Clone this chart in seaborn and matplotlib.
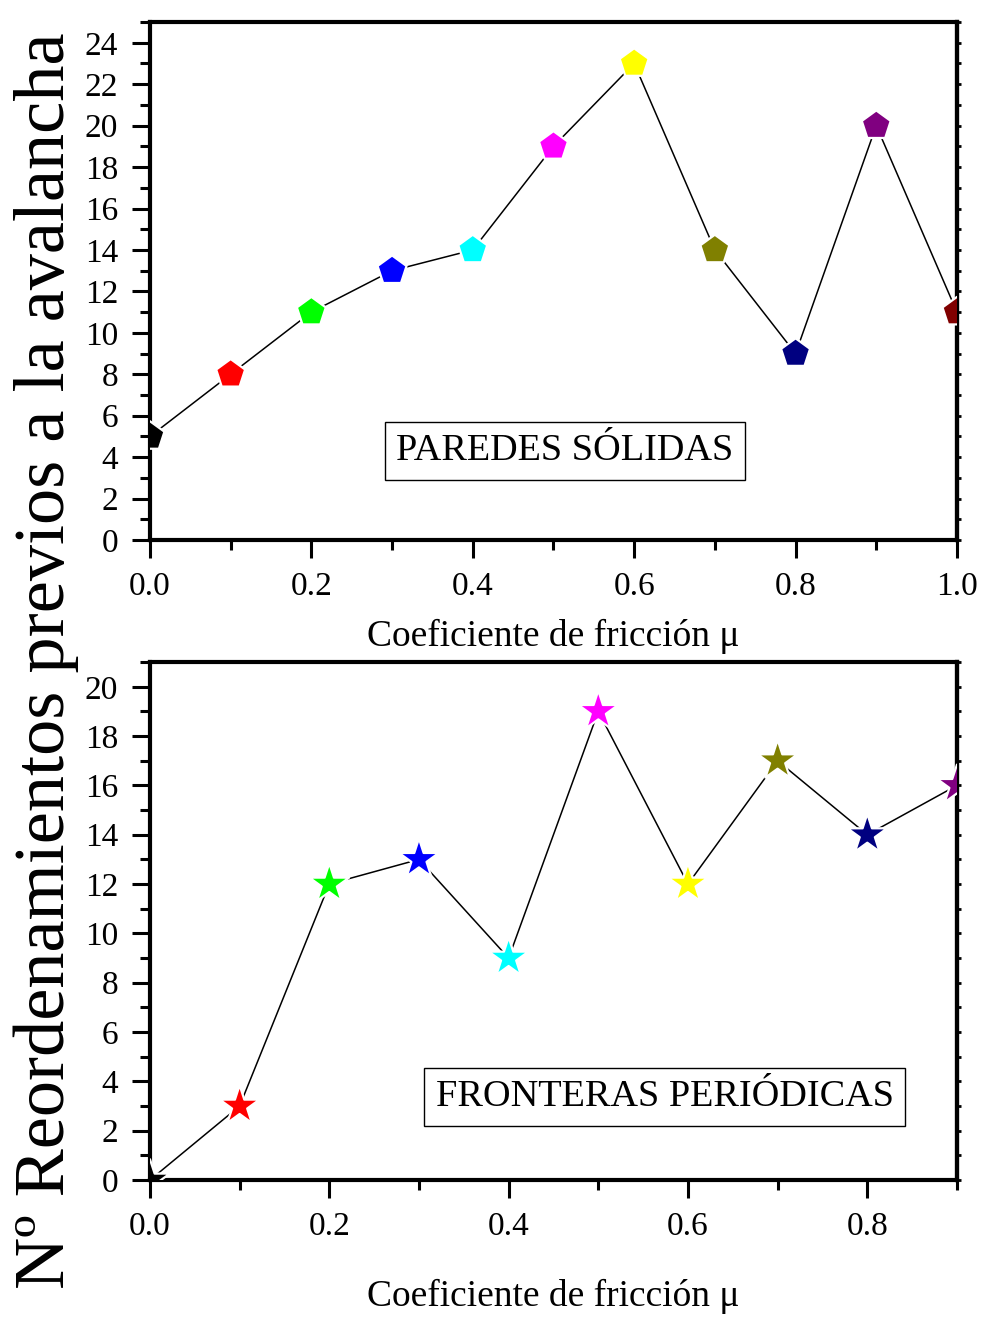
import numpy as np
import pandas as pd
import matplotlib
matplotlib.use('Agg')
import matplotlib.pyplot as plt
import seaborn as sns
from matplotlib.ticker import MultipleLocator, FormatStrFormatter

# data
mu_solid = [0.0, 0.1, 0.2, 0.3, 0.4, 0.5, 0.6, 0.7, 0.8, 0.9, 1.0]
n_solid = [5, 8, 11, 13, 14, 19, 23, 14, 9, 20, 11]
mu_per = [0.0, 0.1, 0.2, 0.3, 0.4, 0.5, 0.6, 0.7, 0.8, 0.9]
n_per = [0, 3, 12, 13, 9, 19, 12, 17, 14, 16]
point_colors = ['black', 'red', 'lime', 'blue', 'cyan', 'magenta',
                'yellow', 'olive', 'navy', 'purple', 'maroon']

xlabel = 'Coeficiente de fricción μ'
ylabel = 'Nº Reordenamientos previos a la avalancha'

sns.set_style('ticks', {'axes.edgecolor': 'black', 'xtick.color': 'black',
                        'ytick.color': 'black', 'text.color': 'black',
                        'axes.labelcolor': 'black'})
plt.rcParams['font.family'] = ['Liberation Serif', 'DejaVu Serif']

fig = plt.figure(figsize=(9.82, 13.21), dpi=100)
ax1 = fig.add_axes([0.1527, 0.5912, 0.8218, 0.3921])
ax2 = fig.add_axes([0.1527, 0.1067, 0.8218, 0.3921])


def draw(ax, xs, ys, marker, size, xlim, ylim, label, box_xy):
    df = pd.DataFrame({'mu': xs, 'n': ys, 'k': [str(i) for i in range(len(xs))]})
    sns.lineplot(data=df, x='mu', y='n', color='black', lw=1.1, ax=ax, zorder=2)
    sns.scatterplot(data=df, x='mu', y='n', hue='k', palette=point_colors[:len(xs)],
                    marker=marker, s=size, edgecolor='white', linewidth=1.6,
                    legend=False, ax=ax, zorder=3)
    ax.set_xlim(*xlim)
    ax.set_ylim(*ylim)
    ax.xaxis.set_major_locator(MultipleLocator(0.2))
    ax.xaxis.set_minor_locator(MultipleLocator(0.1))
    ax.yaxis.set_major_locator(MultipleLocator(2))
    ax.yaxis.set_minor_locator(MultipleLocator(1))
    ax.xaxis.set_major_formatter(FormatStrFormatter('%.1f'))
    ax.tick_params(which='major', direction='out', length=13, width=2.2,
                   labelsize=24, pad=10)
    ax.tick_params(which='minor', direction='out', length=7, width=2.2)
    ax.tick_params(axis='x', which='both', top=False)
    ax.tick_params(axis='y', which='both', right=False)
    # small marks on the right spine
    sec = ax.secondary_yaxis('right')
    sec.yaxis.set_major_locator(MultipleLocator(1))
    sec.tick_params(length=3, width=2, labelright=False)
    sec.spines['right'].set_linewidth(3)
    for sp in ax.spines.values():
        sp.set_linewidth(3)
        sp.set_visible(True)
    ax.set_xlabel(xlabel, fontsize=27, labelpad=12)
    ax.set_ylabel('')
    ax.text(box_xy[0], box_xy[1], label, transform=ax.transAxes, fontsize=27.5,
            ha='center', va='center',
            bbox=dict(boxstyle='square,pad=0.3', fc='white', ec='black', lw=1))


draw(ax1, mu_solid, n_solid, 'p', 480, (0, 1.0), (0, 25),
     'PAREDES SÓLIDAS', (0.514, 0.172))
draw(ax2, mu_per, n_per, '*', 900, (0, 0.9), (0, 21),
     'FRONTERAS PERIÓDICAS', (0.638, 0.160))
ax2.xaxis.labelpad = 26

fig.text(0.047, 0.5, ylabel, rotation=90, fontsize=52, ha='center', va='center')

fig.savefig('out.png', dpi=100)
